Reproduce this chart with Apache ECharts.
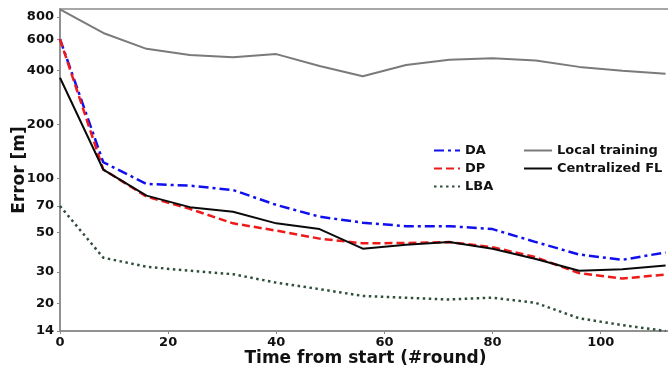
<!DOCTYPE html>
<html>
<head>
<meta charset="utf-8">
<script src="https://cdn.jsdelivr.net/npm/echarts@6/dist/echarts.min.js"></script>
<style>
  html, body { margin: 0; padding: 0; background: #fff; }
  #chart { width: 668px; height: 369px; }
</style>
</head>
<body>
<div id="chart"></div>
<script>
const rounds = [0, 8, 16, 24, 32, 40, 48, 56, 64, 72, 80, 88, 96, 104, 112];
const da = [600, 123, 93, 91, 86, 71, 61, 56.5, 54, 54, 52, 44, 37.5, 35, 38.5];
const dp = [600, 112, 79, 67.5, 56, 51, 46, 43.3, 43.5, 44, 41.2, 36.2, 29.5, 27.5, 29];
const lba = [70, 36, 32, 30.4, 29.1, 26.1, 24, 22, 21.5, 21, 21.5, 20.1, 16.5, 15.1, 14];
const localTraining = [880, 650, 530, 490, 475, 495, 425, 372, 430, 460, 470, 456, 420, 400, 385];
const centralizedFL = [365, 112, 80, 69, 65, 56, 52, 40.4, 42.5, 44, 40.4, 35.4, 30.4, 31, 32.5];
const yTicks = [14, 20, 30, 50, 70, 100, 200, 400, 600, 800];
const xTicks = [0, 20, 40, 60, 80, 100];

const font = "DejaVu Sans";
const pairs = (ys) => rounds.map((x, i) => [x, ys[i]]);

const line = (name, data, color, type, width) => ({
  name,
  type: "line",
  data: pairs(data),
  symbol: "none",
  lineStyle: { color, type, width },
  itemStyle: { color },
});

// legend: line sample only, no marker
const legendBase = {
  orient: "vertical",
  top: 139,
  itemHeight: 10,
  itemGap: 5,
  itemStyle: { opacity: 0 },
  textStyle: { fontFamily: font, fontWeight: "bold", fontSize: 13, color: "#111" },
};

const chart = echarts.init(document.getElementById("chart"));
chart.setOption({
  animation: false,
  grid: {
    left: 60,
    right: -3,
    top: 9,
    bottom: 38,
    outerBoundsMode: "none",
    show: true,
    borderColor: "#8a8a8a",
    borderWidth: 1.5,
  },
  legend: [
    { ...legendBase, data: ["DA", "DP", "LBA"], left: 428, itemWidth: 26 },
    { ...legendBase, data: ["Local training", "Centralized FL"], left: 518, itemWidth: 28 },
  ],
  xAxis: {
    type: "value",
    min: 0,
    max: 113,
    name: "Time from start (#round)",
    nameLocation: "middle",
    nameGap: 19,
    nameMoveOverlap: false,
    nameTextStyle: { fontFamily: font, fontWeight: "bold", fontSize: 17, color: "#111" },
    axisLine: { lineStyle: { color: "#8a8a8a", width: 1.5 } },
    axisTick: { customValues: xTicks, length: 3, lineStyle: { color: "#8a8a8a" } },
    axisLabel: {
      customValues: xTicks,
      margin: 5,
      fontFamily: font,
      fontWeight: "bold",
      fontSize: 13,
      color: "#111",
    },
    splitLine: { show: false },
  },
  yAxis: {
    type: "log",
    logBase: 10,
    min: 14,
    max: 885,
    name: "Error [m]",
    nameLocation: "middle",
    nameRotate: 90,
    nameGap: 32,
    nameMoveOverlap: false,
    nameTextStyle: { fontFamily: font, fontWeight: "bold", fontSize: 17, color: "#111" },
    axisLine: { show: true, lineStyle: { color: "#8a8a8a", width: 1.5 } },
    axisTick: { show: true, customValues: yTicks, length: 3, lineStyle: { color: "#8a8a8a" } },
    axisLabel: {
      customValues: yTicks,
      margin: 6,
      fontFamily: font,
      fontWeight: "bold",
      fontSize: 13,
      color: "#111",
    },
    splitLine: { show: false },
    minorTick: { show: false },
  },
  series: [
    line("DA", da, "#1010ee", [10, 4, 3, 4], 2.5),
    line("DP", dp, "#ee1a1a", [8, 4], 2.5),
    line("LBA", lba, "#2f4f3a", [2.5, 3.5], 2.5),
    line("Local training", localTraining, "#7a7a7a", "solid", 2),
    line("Centralized FL", centralizedFL, "#0a0a0a", "solid", 2),
  ],
});
</script>
</body>
</html>
